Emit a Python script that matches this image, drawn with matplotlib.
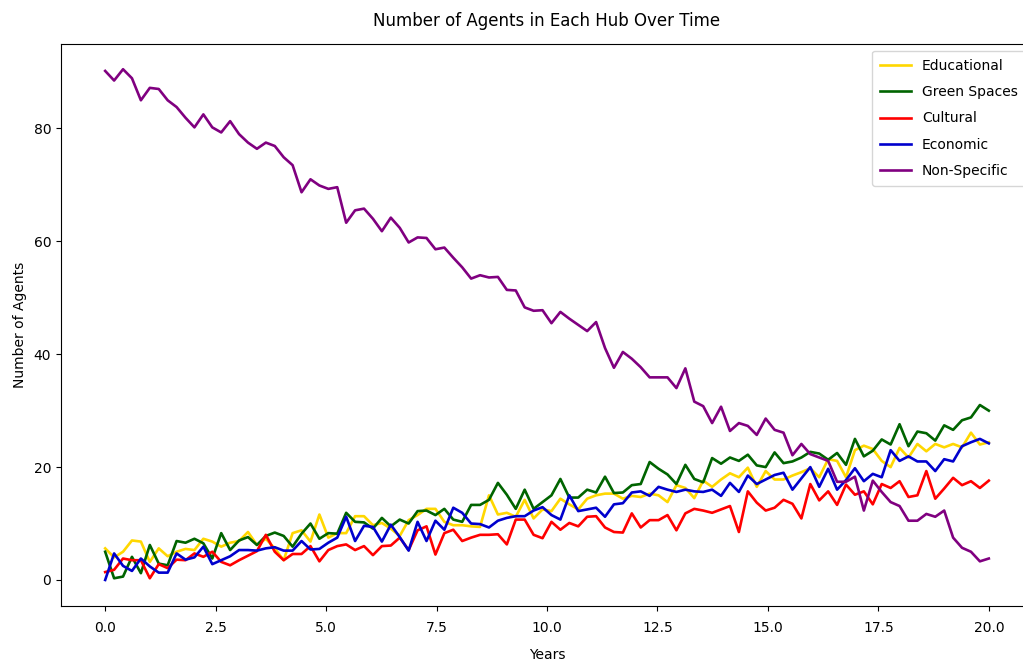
import numpy as np
import matplotlib
matplotlib.use("Agg")
import matplotlib.pyplot as plt

# Time axis (years) and agent counts per hub
years = np.linspace(0, 20, 100)

educational = [
    5.6, 4.0, 5.0, 7.0, 6.8, 3.2, 5.6, 4.2, 5.0, 5.5, 5.3, 7.3, 6.8, 5.9, 6.6, 6.9, 8.5, 6.2, 7.3, 5.6,
    3.5, 8.3, 8.8, 6.8, 11.6, 7.5, 8.3, 8.3, 11.3, 11.3, 9.7, 10.1, 9.1, 7.8, 10.6, 11.5, 12.6, 12.6, 10.3, 9.7,
    9.7, 9.5, 9.4, 15.0, 11.6, 11.9, 11.2, 14.2, 10.9, 12.5, 12.2, 14.4, 13.4, 12.5, 14.4, 15.0, 15.3, 15.3, 14.4, 14.9,
    14.7, 15.3, 15.0, 13.8, 16.8, 16.3, 14.5, 17.6, 16.5, 17.8, 18.9, 18.2, 19.9, 16.5, 19.3, 17.8, 17.8, 18.5, 19.1, 19.8,
    18.2, 21.4, 21.1, 18.2, 23.0, 23.8, 23.2, 21.1, 20.0, 23.4, 21.7, 24.1, 22.8, 24.1, 23.5, 24.1, 23.5, 26.1, 24.0, 24.4,
]

green_spaces = [
    5.0, 0.3, 0.6, 4.1, 1.2, 6.2, 2.9, 2.6, 6.9, 6.6, 7.3, 6.5, 3.8, 8.3, 5.3, 7.0, 7.6, 6.2, 7.8, 8.4,
    7.8, 5.9, 8.2, 10.0, 7.3, 8.3, 8.2, 11.9, 10.3, 10.2, 9.1, 11.0, 9.5, 10.7, 10.0, 12.2, 12.3, 11.5, 12.6, 10.7,
    10.3, 13.3, 13.3, 14.2, 17.2, 15.1, 12.6, 16.0, 12.6, 13.8, 15.0, 17.9, 14.6, 14.6, 16.0, 15.5, 18.3, 15.4, 15.5, 16.8,
    17.0, 20.9, 19.7, 18.7, 17.0, 20.4, 17.9, 17.3, 21.6, 20.6, 21.7, 21.1, 22.2, 20.3, 20.0, 22.6, 20.7, 21.0, 21.7, 22.7,
    22.4, 21.3, 22.5, 20.4, 25.0, 21.9, 22.9, 24.9, 24.0, 27.6, 23.7, 26.3, 26.0, 24.7, 27.4, 26.6, 28.3, 28.8, 31.0, 30.0,
]

cultural = [
    1.4, 1.8, 3.8, 3.5, 3.5, 0.3, 2.8, 2.1, 3.6, 3.5, 4.7, 4.1, 5.0, 3.2, 2.6, 3.5, 4.3, 5.1, 8.0, 5.0,
    3.5, 4.6, 4.6, 6.0, 3.3, 5.3, 6.0, 6.3, 5.3, 6.0, 4.4, 6.0, 6.1, 7.5, 5.3, 8.8, 9.5, 4.5, 8.3, 8.9,
    6.9, 7.5, 8.0, 8.0, 8.1, 6.3, 10.7, 10.7, 8.0, 7.4, 10.3, 8.9, 10.1, 9.5, 11.2, 11.3, 9.3, 8.5, 8.4, 11.8,
    9.3, 10.6, 10.6, 11.5, 8.8, 11.8, 12.6, 12.3, 11.9, 12.5, 13.1, 8.5, 15.7, 13.7, 12.3, 12.8, 14.2, 13.5, 10.9, 17.0,
    14.1, 15.7, 13.3, 16.9, 15.1, 15.7, 13.4, 17.0, 16.3, 17.5, 14.7, 15.0, 19.3, 14.4, 16.2, 18.1, 16.8, 17.5, 16.3, 17.6,
]

economic = [
    0.0, 4.7, 2.5, 1.6, 3.8, 2.4, 1.3, 1.3, 4.7, 3.6, 4.0, 5.9, 2.8, 3.5, 4.2, 5.3, 5.3, 5.2, 5.6, 5.8,
    5.2, 5.2, 6.9, 5.4, 5.5, 6.6, 7.5, 11.2, 6.9, 9.6, 9.4, 6.8, 9.8, 7.6, 5.2, 10.3, 6.9, 10.5, 8.9, 12.8,
    11.9, 10.0, 9.9, 9.3, 10.5, 11.0, 11.3, 11.3, 12.3, 12.9, 11.5, 10.7, 15.0, 12.2, 12.5, 12.8, 11.2, 13.4, 13.6, 15.5,
    15.7, 14.9, 16.5, 16.0, 15.6, 16.0, 15.7, 15.6, 16.0, 14.9, 17.2, 15.6, 18.5, 17.0, 17.8, 18.6, 19.0, 16.0, 18.0, 20.0,
    16.5, 19.7, 16.0, 17.7, 19.8, 17.5, 18.8, 18.2, 23.0, 21.1, 21.9, 21.0, 21.0, 19.3, 21.4, 21.0, 23.7, 24.4, 25.0, 24.2,
]

non_specific = [
    90.2, 88.5, 90.5, 88.9, 85.0, 87.2, 87.0, 85.0, 83.8, 81.9, 80.2, 82.5, 80.2, 79.3, 81.3, 79.0, 77.5, 76.4, 77.5, 76.9,
    74.9, 73.5, 68.7, 71.0, 69.9, 69.3, 69.6, 63.3, 65.5, 65.8, 64.0, 61.8, 64.2, 62.4, 59.8, 60.7, 60.6, 58.6, 58.9, 57.1,
    55.4, 53.4, 54.0, 53.6, 53.7, 51.4, 51.3, 48.3, 47.7, 47.8, 45.5, 47.5, 46.3, 45.2, 44.1, 45.7, 41.1, 37.6, 40.4, 39.2,
    37.7, 35.9, 35.9, 35.9, 34.0, 37.5, 31.6, 30.8, 27.8, 30.7, 26.4, 27.8, 27.3, 25.7, 28.6, 26.6, 26.1, 22.1, 24.1, 22.3,
    21.7, 21.1, 17.4, 17.4, 18.3, 12.3, 17.6, 15.6, 13.8, 13.1, 10.5, 10.5, 11.7, 11.2, 12.3, 7.5, 5.7, 5.0, 3.3, 3.8,
]

series_names = ["Educational", "Green Spaces", "Cultural", "Economic", "Non-Specific"]
series_values = [educational, green_spaces, cultural, economic, non_specific]
series_colors = ["gold", "darkgreen", "red", "mediumblue", "purple"]

W, H = 1023, 663
fig = plt.figure(figsize=(W / 100, H / 100), dpi=100)
# axes box in pixels: left 61, right 1033 (runs past the canvas), top 43.7, bottom 605.5
ax = fig.add_axes([61 / W, 1 - 605.5 / H, (1033 - 61) / W, (605.5 - 43.7) / H])

for name, vals, col in zip(series_names, series_values, series_colors):
    ax.plot(years, vals, color=col, linewidth=1.9, label=name)

ax.set_title("Number of Agents in Each Hub Over Time", fontsize=12, pad=13)
ax.set_xlabel("Years", fontsize=10, labelpad=9)
ax.set_ylabel("Number of Agents", fontsize=10, labelpad=5)
ax.set_xticks([0, 2.5, 5, 7.5, 10, 12.5, 15, 17.5, 20])
ax.set_yticks([0, 20, 40, 60, 80])
ax.tick_params(axis="x", labelsize=10, pad=8)
ax.tick_params(axis="y", labelsize=10)

ax.legend(loc="upper right", fontsize=10, labelspacing=0.88, borderpad=0.6,
          handlelength=2.2, handletextpad=0.8)

fig.savefig("out.png", dpi=100)
